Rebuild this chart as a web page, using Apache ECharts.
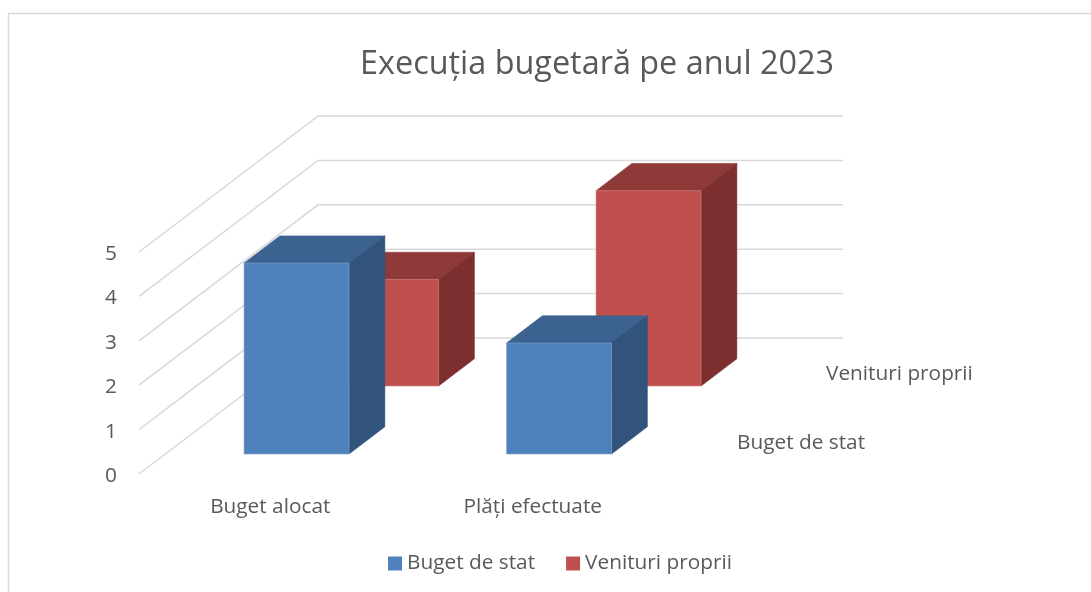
<!DOCTYPE html>
<html>
<head>
<meta charset="utf-8">
<title>Execuția bugetară pe anul 2023</title>
<style>
    html, body { margin: 0; padding: 0; background: #fff; overflow: hidden; }
    #chart { width: 1091px; height: 592px; }
</style>
</head>
<body>
<div id="chart"></div>
<script src="https://cdn.jsdelivr.net/npm/echarts@6/dist/echarts.min.js"></script>
<script>
    var categories = ['Buget alocat', 'Plăți efectuate'];
    var seriesNames = ['Buget de stat', 'Venituri proprii'];
    var bugetStat = [4.3, 2.5];
    var venituriProprii = [2.4, 4.4];
    var yTicks = [0, 1, 2, 3, 4, 5];

    var font = '"Open Sans", sans-serif';
    var textColor = '#595959';
    var labelSize = 20.8;
    // oblique projection: how far the full floor depth moves on screen
    var depthDx = 179;
    var depthDy = -136;
    var barDepth = 0.2;
    var barWidth = 0.4;

    var blueFaces = {front: '#4F81BD', top: '#3C6290', side: '#32547C', edge: '#7FA3CF'};
    var redFaces = {front: '#C0504D', top: '#8F3A38', side: '#7C2F2E', edge: '#CF7F7C'};

    function toPairs(values) {
        return values.map(function (v, i) {
            return [i, v];
        });
    }

    function face(points, fill, edge) {
        return {
            type: 'polygon',
            shape: {points: points},
            style: {fill: fill, stroke: edge, lineWidth: 0.6}
        };
    }

    // one box, depthPos is where its front sits on the floor (0 front .. 1 back)
    function boxRenderer(depthPos, faces) {
        return function (params, api) {
            var base = api.coord([api.value(0), 0]);
            var top = api.coord([api.value(0), api.value(1)]);
            var w = api.size([1, 0])[0] * barWidth;
            var ox = depthDx * depthPos;
            var oy = depthDy * depthPos;
            var bx = depthDx * barDepth;
            var by = depthDy * barDepth;
            var l = base[0] + ox - w / 2;
            var r = base[0] + ox + w / 2;
            var yb = base[1] + oy;
            var yt = top[1] + oy;
            return {
                type: 'group',
                children: [
                    face([[l, yt], [r, yt], [r + bx, yt + by], [l + bx, yt + by]], faces.top, faces.top),
                    face([[r, yt], [r + bx, yt + by], [r + bx, yb + by], [r, yb]], faces.side, faces.side),
                    face([[l, yt], [r, yt], [r, yb], [l, yb]], faces.front, faces.edge)
                ]
            };
        };
    }

    function renderGridLine(params, api) {
        var sys = params.coordSys;
        var y = api.coord([0, api.value(1)])[1];
        return {
            type: 'polyline',
            silent: true,
            shape: {
                points: [
                    [sys.x, y],
                    [sys.x + depthDx, y + depthDy],
                    [sys.x + sys.width + depthDx, y + depthDy]
                ]
            },
            style: {fill: null, stroke: '#D9D9D9', lineWidth: 1.5}
        };
    }

    var chart = echarts.init(document.getElementById('chart'));
    chart.setOption({
        animation: false,
        backgroundColor: '#fff',
        title: {
            text: 'Execuția bugetară pe anul 2023',
            left: 355,
            top: 44,
            textStyle: {fontFamily: font, fontSize: 32.4, fontWeight: 'normal', color: textColor}
        },
        legend: {
            data: seriesNames,
            left: 383,
            top: 548,
            icon: 'rect',
            itemWidth: 14,
            itemHeight: 14,
            itemGap: 31,
            textStyle: {fontFamily: font, fontSize: labelSize, color: textColor}
        },
        grid: {left: 139, top: 252, width: 525, height: 222},
        xAxis: {
            type: 'category',
            data: categories,
            axisLine: {show: false},
            axisTick: {show: false},
            axisLabel: {margin: 23, fontFamily: font, fontSize: labelSize, color: textColor}
        },
        yAxis: {
            type: 'value',
            min: 0,
            max: 5,
            interval: 1,
            splitLine: {show: false},
            axisLine: {show: false},
            axisTick: {show: false},
            axisLabel: {margin: 22, verticalAlign: 'top', lineHeight: 4, fontFamily: font, fontSize: labelSize, color: textColor}
        },
        series: [
            {
                name: 'grila',
                type: 'custom',
                renderItem: renderGridLine,
                encode: {x: 0, y: 1},
                z: 1,
                data: yTicks.map(function (t) { return [0, t]; })
            },
            {
                name: seriesNames[1],
                type: 'custom',
                renderItem: boxRenderer(0.647, redFaces),
                encode: {x: 0, y: 1},
                itemStyle: {color: redFaces.front},
                z: 2,
                data: toPairs(venituriProprii)
            },
            {
                name: seriesNames[0],
                type: 'custom',
                renderItem: boxRenderer(0.147, blueFaces),
                encode: {x: 0, y: 1},
                itemStyle: {color: blueFaces.front},
                z: 3,
                data: toPairs(bugetStat)
            }
        ],
        graphic: [
            {
                type: 'polyline',
                silent: true,
                shape: {points: [[8.5, 592], [8.5, 13.5], [1091, 13.5]]},
                style: {fill: null, stroke: '#D9D9D9', lineWidth: 1.5}
            },
            {
                type: 'text',
                left: 737,
                top: 433,
                style: {text: seriesNames[0], fontFamily: font, fontSize: labelSize, fill: textColor}
            },
            {
                type: 'text',
                left: 826,
                top: 364,
                style: {text: seriesNames[1], fontFamily: font, fontSize: labelSize, fill: textColor}
            }
        ]
    });
</script>
</body>
</html>
